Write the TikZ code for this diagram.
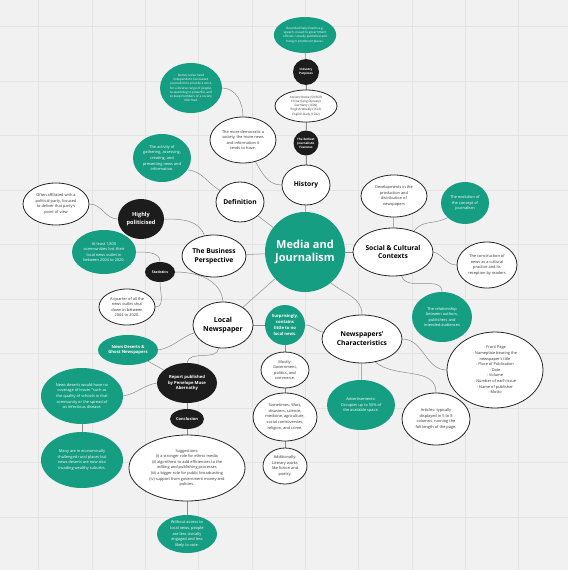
\documentclass[tikz,border=0pt]{standalone}
\usepackage{fontspec}
\setmainfont{Open Sans}
\usetikzlibrary{shapes.geometric}
\definecolor{tealc}{RGB}{22,158,131}
\definecolor{bgc}{RGB}{241,241,241}
\definecolor{gridc}{RGB}{227,227,227}
\definecolor{edgec}{RGB}{140,140,140}
\definecolor{blkc}{RGB}{28,28,28}
\definecolor{txtc}{RGB}{50,50,50}
\pgfdeclarelayer{bg}
\pgfdeclarelayer{edges}
\pgfsetlayers{bg,edges,main}
\tikzset{
  base/.style={ellipse, inner sep=0pt, align=center},
  wnode/.style={base, draw=black!85, line width=0.8pt, fill=white, text=txtc},
  tnode/.style={base, fill=tealc, text=white},
  bnode/.style={base, fill=blkc, text=white},
  sz/.style 2 args={minimum width=#1pt, minimum height=#2pt},
  ftiny/.style={font=\fontsize{3.05}{4.2}\selectfont},
  ftinyb/.style={font=\fontsize{3.0}{4.1}\selectfont\bfseries},
  fsmall/.style={font=\fontsize{3.9}{5.6}\selectfont},
  fsmallb/.style={font=\fontsize{4.2}{5.8}\selectfont\bfseries},
  ftitle/.style={font=\fontsize{6.7}{8.8}\selectfont\bfseries, text=black},
  con/.style={draw=edgec, line width=0.5pt},
}
\begin{document}
\begin{tikzpicture}[x=1pt,y=-1pt]
\useasboundingbox (0,0) rectangle (568,570);
\begin{pgfonlayer}{bg}
\fill[bgc] (0,0) rectangle (568,570);
\foreach \gx in {38.7,92,145.4,198.7,252,305.3,358.6,412,465.3,518.6}
  \draw[gridc, line width=0.6pt] (\gx,0) -- (\gx,570);
\foreach \gy in {26.5,81,135.5,190,244.5,299,353.5,408,462.5,517}
  \draw[gridc, line width=0.6pt] (0,\gy) -- (568,\gy);
\end{pgfonlayer}

% History branch
\node[tnode, sz={60}{36}, ftiny] (rec) at (305,35) {Recorded Daily Events e.g.\\speech, issued to government\\officials. Usually published and\\hung in prominent places.};
\node[bnode, sz={26}{26}, ftinyb] (ind) at (306,72) {Industry\\Purposes};
\node[wnode, sz={62}{32}, ftiny] (anc) at (306,106) {Ancient Rome (59 BCE)\\China (Tang Dynasty)\\Germany (1609)\\English Weekly (1622)\\English Daily (1702)};
\node[bnode, sz={25}{25}, ftinyb] (ear) at (306,143) {The Earliest\\Journalistic\\Features};
\node[wnode, sz={48}{40}, ftitle] (hist) at (306,185) {History};
\node[wnode, sz={66}{46}, fsmall] (dem) at (243,140) {The more democratic a\\society, the more news\\and information it\\tends to have.};
\node[tnode, sz={62}{50}, ftiny] (demo) at (191,88) {Democracies need\\independent, fact-based\\journalism to provide a voice\\for a diverse range of people,\\to watchdog to powerful, and\\to keep members of a society\\informed.};

% Definition
\node[tnode, sz={58}{48}, fsmall] (act) at (162,158) {The activity of\\gathering, assessing,\\creating, and\\presenting news and\\information.};
\node[wnode, sz={48}{40}, ftitle] (def) at (240,202) {Definition};

% Business
\node[bnode, sz={46}{40}, font=\fontsize{5.6}{7.6}\selectfont\bfseries] (hp) at (141,219) {Highly\\politicised};
\node[wnode, sz={66}{42}, fsmall] (often) at (56,204) {Often affiliated with a\\political party, focused\\to deliver that party's\\point of view};
\node[wnode, sz={64}{42}, ftitle] (bus) at (214,256) {The Business\\Perspective};

% Local newspaper
\node[tnode, sz={64}{44}, fsmall] (atl) at (104,252) {At least 1,800\\communities lost their\\local news outlet in\\between 2004 to 2020.};
\node[bnode, sz={30}{20}, font=\fontsize{3.5}{4.5}\selectfont\bfseries] (stat) at (160,272) {Statistics};
\node[wnode, sz={56}{36}, fsmall] (aq) at (127,307) {A quarter of all the\\news outlet shut\\down in between\\2004 to 2020.};
\node[wnode, sz={60}{46}, font=\fontsize{7}{9}\selectfont\bfseries, text=black] (loc) at (223,325) {Local\\Newspaper};
\node[tnode, sz={60}{30}, fsmallb] (nd) at (128,350) {News Deserts \&\\Ghost Newspapers};
\node[tnode, sz={40}{40}, fsmallb] (sur) at (285,325) {Surprisingly,\\contains\\little to no\\local news.};
\node[bnode, sz={60}{40}, fsmallb] (rep) at (187,383) {Report published\\by Penelope Muse\\Abernathy};
\node[bnode, sz={34}{20}, font=\fontsize{4}{5}\selectfont\bfseries] (concl) at (187,419) {Conclusion};
\node[wnode, sz={116}{66}, fsmall] (sugg) at (187,468) {Suggestions:\\(i) a stronger role for ethnic media\\(ii) algorithms to add efficiencies to the\\editing and publishing processes\\(iii) a bigger role for public broadcasting\\(iv) support from government money and\\policies.};
\node[tnode, sz={60}{38}, fsmall] (wo) at (187,534) {Without access to\\local news, people\\are less civically\\engaged and less\\likely to vote.};
\node[tnode, sz={82}{56}, fsmall] (ndw) at (82,396) {News deserts would have no\\coverage of issues "such as\\the quality of schools in that\\community or the spread of\\an infectious disease.};
\node[tnode, sz={82}{56}, fsmall] (many) at (82,460) {Many are in economically\\challenged rural places but\\news deserts are now also\\invading wealthy suburbs.};
\node[wnode, sz={48}{36}, fsmall] (most) at (285,370) {Mostly:\\Government,\\politics, and\\commerce.};
\node[wnode, sz={64}{48}, fsmall] (some) at (285,417) {Sometimes: Wars,\\disasters, science,\\medicine, agriculture,\\social controversies,\\religion, and crime.};
\node[wnode, sz={44}{36}, fsmall] (add) at (285,466) {Additionally:\\Literary works\\like fiction and\\poetry.};

% Newspapers' characteristics
\node[wnode, sz={80}{48}, ftitle] (nc) at (362,339) {Newspapers'\\Characteristics};
\node[tnode, sz={68}{50}, fsmall] (adv) at (361,405) {Advertisements:\\Occupies up to 50\% of\\the available space.};
\node[wnode, sz={68}{52}, fsmall] (art) at (436,419) {Articles: typically\\displayed in 5 to 8\\columns, running the\\full length of the page.};
\node[wnode, sz={96}{76}, fsmall] (list) at (495,370) {- Front Page\\- Nameplate bearing the\\newspaper's title\\- Place of Publication\\- Date\\- Volume\\- Number of each issue\\- Name of publisher\\- Motto};

% Social & cultural
\node[tnode, sz={60}{50}, fsmall] (rel) at (442,317) {The relationship\\between authors,\\publishers and\\intended audiences};
\node[wnode, sz={80}{48}, ftitle] (soc) at (393,252) {Social \& Cultural\\Contexts};
\node[wnode, sz={66}{42}, fsmall] (dev) at (394,196) {Developments in the\\production and\\distribution of\\newspapers};
\node[tnode, sz={48}{42}, fsmall] (evo) at (465,203) {The evolution of\\the concept of\\journalism};
\node[wnode, sz={60}{46}, fsmall] (cons) at (487,265) {The construction of\\news as a cultural\\practice and its\\reception by readers};

% Centre
\node[tnode, circle, minimum size=80pt, font=\fontsize{11}{13.5}\selectfont\bfseries] (media) at (305,252) {Media and\\Journalism};

\begin{pgfonlayer}{edges}
\draw[con] (rec) -- (ind);
\draw[con] (ind) -- (anc);
\draw[con] (anc) -- (ear);
\draw[con] (ear) -- (hist);
\draw[con] (hist) -- (media);
\draw[con] (hist.west) to[out=180,in=-60] (dem.-60);
\draw[con] (dem.north) to[out=90,in=0] (demo.east);
\draw[con] (def) -- (media);
\draw[con] (act.-25) to[out=-5,in=150] (def.150);
\draw[con] (bus) -- (media);
\draw[con] (hp.east) to[out=0,in=110] (bus.115);
\draw[con] (often.east) to[out=0,in=180] (hp.west);
\draw[con] (media) -- (loc);
\draw[con] (stat.east) to[out=0,in=95] (loc.north);
\draw[con] (atl.east) to[out=0,in=90] (stat.north);
\draw[con] (stat.south) to[out=-90,in=0] (aq.east);
\draw[con] (nd.east) to[out=10,in=200] (loc.195);
\draw[con] (loc.-100) to[out=-100,in=80] (rep.north);
\draw[con] (nd) -- (rep);
\draw[con] (ndw.east) to[out=10,in=190] (rep.west);
\draw[con] (ndw) -- (many);
\draw[con] (rep) -- (concl);
\draw[con] (concl) -- (sugg);
\draw[con] (sugg) -- (wo);
\draw[con] (loc) -- (sur);
\draw[con] (sur) -- (most);
\draw[con] (most) -- (some);
\draw[con] (some) -- (add);
\draw[con] (sur.east) to[out=0,in=170] (nc.170);
\draw[con] (media.-50) to[out=-40,in=90] (nc.north);
\draw[con] (nc) -- (adv);
\draw[con] (nc.-60) to[out=-40,in=90] (art.north);
\draw[con] (nc.east) to[out=0,in=180] (list.west);
\draw[con] (media) -- (soc);
\draw[con] (soc) -- (dev);
\draw[con] (soc.45) to[out=55,in=210] (evo.220);
\draw[con] (soc.east) to[out=-15,in=180] (cons.west);
\draw[con] (soc.-70) to[out=-75,in=90] (rel.north);
\end{pgfonlayer}
\end{tikzpicture}
\end{document}
